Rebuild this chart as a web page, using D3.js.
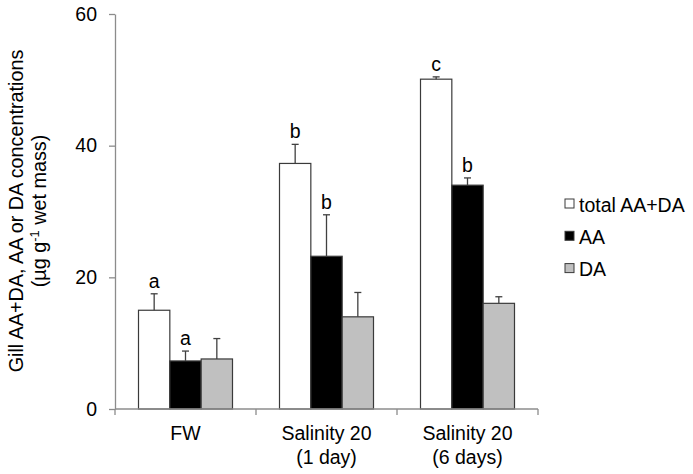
<!DOCTYPE html>
<html><head><meta charset="utf-8">
<script src="https://cdn.jsdelivr.net/npm/d3@7"></script>
<style>body{margin:0;background:#fff}svg{display:block;font-family:"Liberation Sans",Arial,sans-serif}</style>
</head><body><svg id="c" width="693" height="474"></svg>
<script>
const categories = [["FW"], ["Salinity 20", "(1 day)"], ["Salinity 20", "(6 days)"]];
const seriesNames = ["total AA+DA", "AA", "DA"];
const seriesColors = ["#ffffff", "#000000", "#c0c0c0"];
const totalVals = [15.0, 37.3, 50.1];
const totalErr = [2.5, 2.9, 0.35];
const aaVals = [7.3, 23.2, 34.0];
const aaErr = [1.5, 6.3, 1.1];
const daVals = [7.6, 14.0, 16.05];
const daErr = [3.1, 3.7, 1.0];
const totalLetters = ["a", "b", "c"];
const aaLetters = ["a", "b", "b"];
const daLetters = ["", "", ""];
const yTicks = [0, 20, 40, 60];

const svg = d3.select("#c");
const FONT = "Liberation Sans, Arial, sans-serif";
const x0 = d3.scaleBand().domain(d3.range(categories.length)).range([115, 538]).paddingInner(0).paddingOuter(0);
const x1 = d3.scaleBand().domain(d3.range(3)).range([0, x0.bandwidth()]).paddingOuter(0.75);
const y = d3.scaleLinear().domain([0, 60]).range([409, 14]);

const series = [
  {vals: totalVals, err: totalErr, letters: totalLetters},
  {vals: aaVals, err: aaErr, letters: aaLetters},
  {vals: daVals, err: daErr, letters: daLetters}
];
const axisColor = "#8c8c8c";

// y axis
const yAxis = svg.append("g").attr("transform", "translate(115,0)")
  .call(d3.axisLeft(y).tickValues(yTicks).tickSize(6).tickPadding(12).tickSizeOuter(0));
yAxis.select(".domain").attr("stroke", axisColor).attr("stroke-width", 1.3);
yAxis.selectAll(".tick line").attr("stroke", axisColor).attr("stroke-width", 1.3);
yAxis.selectAll(".tick text").attr("font-size", 19.5).attr("fill", "#000").attr("font-family", FONT);

// bars
series.forEach((s, si) => {
  const g = svg.append("g");
  categories.forEach((c, ci) => {
    const bx = x0(ci) + x1(si);
    const bw = x1.bandwidth();
    g.append("rect").attr("x", bx).attr("y", y(s.vals[ci])).attr("width", bw)
      .attr("height", y(0) - y(s.vals[ci])).attr("fill", seriesColors[si])
      .attr("stroke", "#3a3a3a").attr("stroke-width", 1.2);
    const cx = bx + bw / 2;
    const top = y(s.vals[ci] + s.err[ci]);
    g.append("line").attr("x1", cx).attr("x2", cx).attr("y1", y(s.vals[ci])).attr("y2", top)
      .attr("stroke", "#404040").attr("stroke-width", 1.3);
    g.append("line").attr("x1", cx - 3.5).attr("x2", cx + 3.5).attr("y1", top).attr("y2", top)
      .attr("stroke", "#404040").attr("stroke-width", 1.3);
    if (s.letters[ci]) {
      g.append("text").attr("x", cx).attr("y", top - 6).attr("text-anchor", "middle")
        .attr("font-size", 19.5).text(s.letters[ci]);
    }
  });
});

// x axis
const xg = svg.append("g");
xg.append("line").attr("x1", 115).attr("x2", 538).attr("y1", y(0)).attr("y2", y(0))
  .attr("stroke", axisColor).attr("stroke-width", 1.3);
[0, 1, 2, 3].forEach(i => {
  const xx = i < 3 ? x0(i) : x0(2) + x0.bandwidth();
  xg.append("line").attr("x1", xx).attr("x2", xx).attr("y1", y(0)).attr("y2", y(0) + 6)
    .attr("stroke", axisColor).attr("stroke-width", 1.3);
});
categories.forEach((c, ci) => {
  const t = xg.append("text").attr("x", x0(ci) + x0.bandwidth() / 2).attr("y", 440)
    .attr("text-anchor", "middle").attr("font-size", 19.5);
  c.forEach((line, li) => {
    t.append("tspan").attr("x", x0(ci) + x0.bandwidth() / 2).attr("dy", li === 0 ? 0 : 24).text(line);
  });
});

// y title (two lines, sized to fit measured extents)
const tg = svg.append("g").attr("transform", "translate(0,211) rotate(-90)");
const t1 = tg.append("text").attr("x", 0).attr("y", 23).attr("text-anchor", "middle")
  .attr("font-size", 20).text("Gill AA+DA, AA or DA concentrations");
const len1 = t1.node().getComputedTextLength();
const fs = 20 * 323 / len1;
t1.attr("font-size", fs);
const t2 = tg.append("text").attr("x", 0).attr("y", 46).attr("text-anchor", "middle").attr("font-size", fs);
t2.append("tspan").text("(µg g");
t2.append("tspan").attr("dy", -7).attr("font-size", fs * 0.65).text("-1");
t2.append("tspan").attr("dy", 7).text(" wet mass)");

// legend
const lg = svg.append("g");
seriesNames.forEach((n, i) => {
  const yy = 203.5 + i * 32.3;
  lg.append("rect").attr("x", 565).attr("y", yy - 4.5).attr("width", 9).attr("height", 9)
    .attr("fill", seriesColors[i]).attr("stroke", "#3a3a3a").attr("stroke-width", 1);
  lg.append("text").attr("x", 579).attr("y", yy + 8).attr("font-size", 19.5).text(n);
});
</script></body></html>
